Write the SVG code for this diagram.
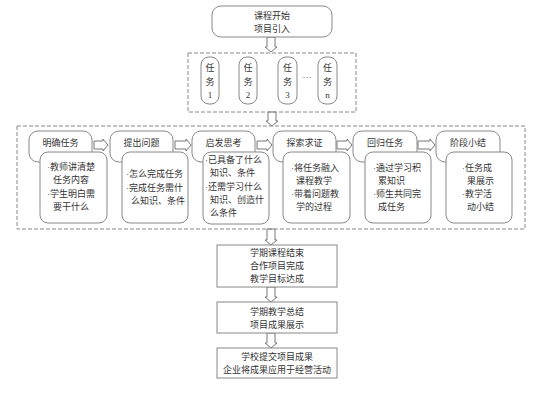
<svg xmlns="http://www.w3.org/2000/svg" width="560" height="395" viewBox="0 0 560 395">
<style>
text{font-family:"Liberation Serif","Noto Sans CJK SC",serif;font-size:9px;fill:#333}
.c{text-anchor:middle}
.box{fill:#fff;stroke:#888;stroke-width:1}
.dash{fill:none;stroke:#888;stroke-width:1;stroke-dasharray:4 2}
.arr{fill:#fff;stroke:#777;stroke-width:1}
</style>
<rect width="560" height="395" fill="#fff"/>
<g id="connectors">
<path class="arr" d="M267 37 L275 37 L275 47 L277 47 L271 52 L265 47 L267 47 Z"/>
<path class="arr" d="M268 112 L276 112 L276 121 L278 121 L272 126 L266 121 L268 121 Z"/>
<path class="arr" d="M267 229 L275 229 L275 240 L277 240 L271 245 L265 240 L267 240 Z"/>
<path class="arr" d="M267 287 L275 287 L275 297 L277 297 L271 302 L265 297 L267 297 Z"/>
<path class="arr" d="M267 333 L275 333 L275 343 L277 343 L271 348 L265 343 L267 343 Z"/>
<path class="arr" d="M94 141 L103 141 L103 139 L108 145 L103 151 L103 149 L94 149 Z"/>
<path class="arr" d="M175 141 L186 141 L186 139 L191 145 L186 151 L186 149 L175 149 Z"/>
<path class="arr" d="M257 141 L267 141 L267 139 L272 145 L267 151 L267 149 L257 149 Z"/>
<path class="arr" d="M337 141 L347 141 L347 139 L352 145 L347 151 L347 149 L337 149 Z"/>
<path class="arr" d="M418 141 L430 141 L430 139 L435 145 L430 151 L430 149 L418 149 Z"/>
</g>
<g id="start">
<rect class="box" x="212" y="6" width="120" height="31" rx="9"/>
<text class="c" x="272" y="19">课程开始</text>
<text class="c" x="272" y="32">项目引入</text>
</g>
<g id="tasks">
<rect class="dash" x="188" y="53" width="168" height="59"/>
<g id="task1"><rect class="box" x="201" y="57" width="18" height="47" rx="8"/>
<text class="c" x="210" y="71">任</text><text class="c" x="210" y="85">务</text><text class="c" x="210" y="98">1</text></g>
<g id="task2"><rect class="box" x="239" y="57" width="18" height="47" rx="8"/>
<text class="c" x="248" y="71">任</text><text class="c" x="248" y="85">务</text><text class="c" x="248" y="98">2</text></g>
<g id="task3"><rect class="box" x="278" y="57" width="19" height="47" rx="8"/>
<text class="c" x="287.5" y="71">任</text><text class="c" x="287.5" y="85">务</text><text class="c" x="287.5" y="98">3</text></g>
<text class="c" x="307" y="80">···</text>
<g id="taskn"><rect class="box" x="318" y="57" width="19" height="47" rx="8"/>
<text class="c" x="327.5" y="71">任</text><text class="c" x="327.5" y="85">务</text><text class="c" x="327.5" y="98">n</text></g>
</g>
<g id="process">
<rect class="dash" x="17" y="126" width="508" height="103"/>
<g id="step1">
<rect class="box" x="29" y="131" width="63" height="31" rx="9"/>
<text class="c" x="60.5" y="146">明确任务</text>
<rect class="box" x="40" y="152" width="67" height="71" rx="8"/>
<text x="47" y="170">·教师讲清楚</text>
<text x="53" y="183">任务内容</text>
<text x="47" y="197">·学生明白需</text>
<text x="53" y="210">要干什么</text>
</g>
<g id="step2">
<rect class="box" x="110" y="131" width="63" height="31" rx="9"/>
<text class="c" x="141.5" y="146">提出问题</text>
<rect class="box" x="122" y="152" width="66" height="71" rx="8"/>
<text x="126" y="177">·怎么完成任务</text>
<text x="126" y="191">·完成任务需什</text>
<text x="131" y="204">么知识、条件</text>
</g>
<g id="step3">
<rect class="box" x="192" y="131" width="63" height="31" rx="9"/>
<text class="c" x="223.5" y="146">启发思考</text>
<rect class="box" x="203" y="152" width="66" height="72" rx="8"/>
<text x="205" y="163">·已具备了什么</text>
<text x="210" y="176">知识、条件</text>
<text x="205" y="190">·还需学习什么</text>
<text x="210" y="203">知识、创造什</text>
<text x="210" y="216">么条件</text>
</g>
<g id="step4">
<rect class="box" x="273" y="131" width="63" height="31" rx="9"/>
<text class="c" x="304.5" y="146">探索求证</text>
<rect class="box" x="283" y="152" width="67" height="71" rx="8"/>
<text x="291" y="171">·将任务融入</text>
<text x="296" y="184">课程教学</text>
<text x="291" y="197">·带着问题教</text>
<text x="296" y="210">学的过程</text>
</g>
<g id="step5">
<rect class="box" x="353" y="131" width="64" height="31" rx="9"/>
<text class="c" x="385" y="146">回归任务</text>
<rect class="box" x="365" y="152" width="66" height="71" rx="8"/>
<text x="373" y="171">·通过学习积</text>
<text x="378" y="184">累知识</text>
<text x="373" y="197">·师生共同完</text>
<text x="378" y="210">成任务</text>
</g>
<g id="step6">
<rect class="box" x="436" y="131" width="64" height="31" rx="9"/>
<text class="c" x="468" y="146">阶段小结</text>
<rect class="box" x="446" y="152" width="66" height="71" rx="8"/>
<text x="462" y="171">·任务成</text>
<text x="467" y="184">果展示</text>
<text x="462" y="197">·教学活</text>
<text x="467" y="210">动小结</text>
</g>
</g>
<g id="end1">
<rect class="box" x="217" y="245" width="120" height="42"/>
<text class="c" x="277" y="256">学期课程结束</text>
<text class="c" x="277" y="269">合作项目完成</text>
<text class="c" x="277" y="282">教学目标达成</text>
</g>
<g id="end2">
<rect class="box" x="217" y="302" width="120" height="31"/>
<text class="c" x="277" y="315">学期教学总结</text>
<text class="c" x="277" y="328">项目成果展示</text>
</g>
<g id="end3">
<rect class="box" x="217" y="348" width="120" height="30"/>
<text class="c" x="277" y="360">学校提交项目成果</text>
<text class="c" x="277" y="373">企业将成果应用于经营活动</text>
</g>
</svg>
